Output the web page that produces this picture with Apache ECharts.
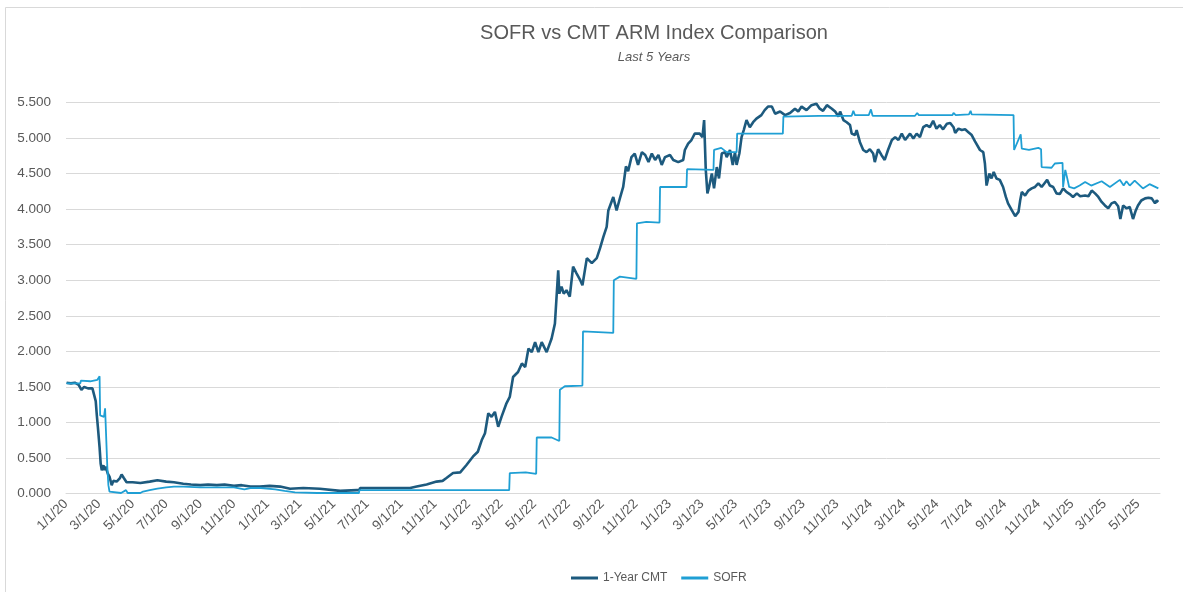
<!DOCTYPE html>
<html>
<head>
<meta charset="utf-8">
<title>SOFR vs CMT ARM Index Comparison</title>
<script src="https://cdn.jsdelivr.net/npm/echarts@6/dist/echarts.min.js"></script>
<style>
  html, body { margin: 0; padding: 0; background: #fff; }
  #chart { width: 1183px; height: 592px; }
</style>
</head>
<body>
<div id="chart"></div>
<script>
// tick labels on the x axis (every two months)
var xTickDates = [
  '2020-01-01','2020-03-01','2020-05-01','2020-07-01','2020-09-01','2020-11-01',
  '2021-01-01','2021-03-01','2021-05-01','2021-07-01','2021-09-01','2021-11-01',
  '2022-01-01','2022-03-01','2022-05-01','2022-07-01','2022-09-01','2022-11-01',
  '2023-01-01','2023-03-01','2023-05-01','2023-07-01','2023-09-01','2023-11-01',
  '2024-01-01','2024-03-01','2024-05-01','2024-07-01','2024-09-01','2024-11-01',
  '2025-01-01','2025-03-01','2025-05-01'
];
var yTicks = [0, 0.5, 1, 1.5, 2, 2.5, 3, 3.5, 4, 4.5, 5, 5.5];

// 1-Year CMT
var cmtDates = [
  '2020-01-02','2020-01-10','2020-01-17','2020-01-24','2020-01-29','2020-02-03','2020-02-10','2020-02-18','2020-02-21','2020-02-24',
  '2020-02-26','2020-02-28','2020-03-02','2020-03-04','2020-03-06','2020-03-09','2020-03-11','2020-03-13','2020-03-17','2020-03-20',
  '2020-03-24','2020-03-27','2020-04-02','2020-04-08','2020-04-11','2020-04-15','2020-04-20','2020-05-01','2020-05-15','2020-06-01',
  '2020-06-15','2020-07-01','2020-07-15','2020-08-01','2020-08-15','2020-09-01','2020-09-15','2020-10-01','2020-10-15','2020-11-01',
  '2020-11-15','2020-12-01','2020-12-18',
  '2021-01-05','2021-01-24','2021-02-11','2021-03-07','2021-04-06','2021-05-13','2021-06-12','2021-06-17','2021-06-18','2021-08-05',
  '2021-09-17','2021-09-29','2021-10-17','2021-11-04','2021-11-15','2021-11-22','2021-12-04','2021-12-17','2021-12-28',
  '2022-01-09','2022-01-18','2022-01-25','2022-01-31','2022-02-06','2022-02-12','2022-02-18','2022-02-24','2022-03-02','2022-03-11',
  '2022-03-17','2022-03-23','2022-04-01','2022-04-08','2022-04-14','2022-04-20','2022-04-26','2022-05-02','2022-05-08','2022-05-14',
  '2022-05-23','2022-06-01','2022-06-07','2022-06-13','2022-06-15','2022-06-19','2022-06-23','2022-06-28','2022-07-04','2022-07-10',
  '2022-07-16','2022-07-23','2022-07-27','2022-08-04','2022-08-13','2022-08-22','2022-08-28','2022-09-03','2022-09-09','2022-09-12',
  '2022-09-21','2022-09-27','2022-10-03','2022-10-09','2022-10-14','2022-10-18','2022-10-24','2022-10-30','2022-11-05','2022-11-12',
  '2022-11-18','2022-11-24','2022-11-30','2022-12-06','2022-12-12','2022-12-18','2022-12-24',
  '2023-01-02','2023-01-08','2023-01-17','2023-01-26','2023-01-29','2023-02-04','2023-02-10','2023-02-16','2023-02-25','2023-03-02',
  '2023-03-05','2023-03-08','2023-03-11','2023-03-14','2023-03-19','2023-03-23','2023-03-28','2023-04-01','2023-04-06','2023-04-12',
  '2023-04-15','2023-04-21','2023-04-26','2023-04-30','2023-05-03','2023-05-08','2023-05-12','2023-05-16','2023-05-21','2023-05-27',
  '2023-06-02','2023-06-08','2023-06-17','2023-06-23','2023-06-29','2023-07-06','2023-07-12','2023-07-21','2023-07-30','2023-08-08',
  '2023-08-17','2023-08-23','2023-08-29','2023-09-07','2023-09-16','2023-09-25','2023-10-01','2023-10-07','2023-10-14','2023-10-23',
  '2023-10-29','2023-11-04','2023-11-07','2023-11-13','2023-11-19','2023-11-25','2023-11-28','2023-12-04','2023-12-07','2023-12-13',
  '2023-12-19','2023-12-25','2023-12-31',
  '2024-01-06','2024-01-09','2024-01-15','2024-01-21','2024-01-27','2024-02-02','2024-02-09','2024-02-15','2024-02-21','2024-02-27',
  '2024-03-04','2024-03-13','2024-03-19','2024-03-25','2024-03-31','2024-04-06','2024-04-12','2024-04-18','2024-04-24','2024-04-30',
  '2024-05-06','2024-05-12','2024-05-19','2024-05-25','2024-05-31','2024-06-03','2024-06-09','2024-06-15','2024-06-21','2024-06-27',
  '2024-07-03','2024-07-09','2024-07-18','2024-07-24','2024-07-27','2024-07-30','2024-08-04','2024-08-08','2024-08-12','2024-08-17',
  '2024-08-23','2024-08-29','2024-09-03','2024-09-07','2024-09-14','2024-09-20','2024-09-26','2024-09-29','2024-10-02','2024-10-08',
  '2024-10-14','2024-10-20','2024-10-26','2024-11-01','2024-11-07','2024-11-13','2024-11-17','2024-11-22','2024-11-28','2024-12-04',
  '2024-12-10','2024-12-16','2024-12-22','2024-12-28',
  '2025-01-03','2025-01-10','2025-01-16','2025-01-25','2025-01-31','2025-02-06','2025-02-12','2025-02-18','2025-02-24','2025-03-02',
  '2025-03-08','2025-03-14','2025-03-20','2025-03-26','2025-03-30','2025-04-04','2025-04-10','2025-04-16','2025-04-22','2025-04-27',
  '2025-05-01','2025-05-07','2025-05-14','2025-05-20','2025-05-26','2025-06-01','2025-06-04','2025-06-07'
];
var cmtValues = [
  1.56,1.55,1.56,1.53,1.46,1.50,1.48,1.48,1.46,1.30,
  1.10,0.93,0.65,0.42,0.33,0.40,0.33,0.38,0.28,0.24,
  0.12,0.18,0.17,0.22,0.27,0.22,0.16,0.16,0.15,0.17,
  0.19,0.17,0.16,0.14,0.13,0.12,0.13,0.12,0.13,0.11,
  0.12,0.10,0.10,
  0.11,0.10,0.07,0.08,0.07,0.04,0.05,0.05,0.08,0.08,
  0.08,0.10,0.13,0.17,0.18,0.22,0.29,0.30,0.40,
  0.52,0.59,0.75,0.85,1.13,1.08,1.15,0.94,1.08,1.27,
  1.36,1.64,1.71,1.83,1.78,2.04,1.99,2.13,1.99,2.13,
  1.99,2.18,2.39,3.14,2.81,2.91,2.81,2.86,2.77,3.19,
  3.10,3.00,2.93,3.31,3.24,3.31,3.45,3.61,3.75,3.98,
  4.17,3.98,4.15,4.31,4.60,4.53,4.73,4.78,4.62,4.80,
  4.76,4.66,4.78,4.69,4.76,4.62,4.73,
  4.76,4.69,4.66,4.69,4.83,4.92,4.97,5.06,5.06,5.01,
  5.25,4.55,4.22,4.31,4.50,4.29,4.59,4.43,4.78,4.80,
  4.73,4.83,4.62,4.80,4.62,4.78,5.01,5.11,5.25,5.15,
  5.22,5.27,5.32,5.39,5.44,5.44,5.34,5.37,5.32,5.35,
  5.41,5.37,5.44,5.39,5.46,5.48,5.41,5.38,5.46,5.41,
  5.37,5.30,5.37,5.25,5.22,5.18,5.06,5.04,5.11,4.94,
  4.83,4.80,4.84,
  4.78,4.66,4.84,4.76,4.69,4.83,4.97,5.01,4.97,5.06,
  4.97,5.06,4.99,5.06,5.01,5.15,5.18,5.15,5.24,5.13,
  5.18,5.12,5.20,5.21,5.15,5.07,5.13,5.11,5.12,5.08,
  5.04,4.95,4.83,4.80,4.64,4.33,4.50,4.43,4.52,4.43,
  4.41,4.31,4.17,4.08,3.98,3.90,3.96,4.12,4.24,4.19,
  4.26,4.29,4.31,4.36,4.31,4.37,4.41,4.33,4.31,4.22,
  4.21,4.29,4.24,4.21,
  4.17,4.22,4.18,4.19,4.18,4.26,4.22,4.17,4.10,4.05,
  4.01,4.08,4.10,4.04,3.86,4.05,4.01,4.03,3.86,3.98,
  4.05,4.12,4.15,4.16,4.15,4.08,4.12,4.10
];

// SOFR (step points kept on both sides of each move)
var sofrDates = [
  '2020-01-02','2020-01-27','2020-01-28','2020-02-14','2020-02-27','2020-03-02','2020-03-03','2020-03-10','2020-03-12','2020-03-16',
  '2020-03-18','2020-03-20','2020-04-10','2020-04-19','2020-04-22','2020-05-15','2020-05-20','2020-06-01','2020-06-15','2020-07-01',
  '2020-07-15','2020-08-01','2020-09-01','2020-10-01','2020-11-01','2020-11-20','2020-12-01','2020-12-20',
  '2021-01-15','2021-02-01','2021-02-20','2021-04-01','2021-06-16','2021-06-17','2021-09-01','2021-12-01',
  '2022-03-16','2022-03-17','2022-04-15','2022-05-04','2022-05-05','2022-06-01','2022-06-15','2022-06-16','2022-06-25','2022-07-27',
  '2022-07-28','2022-09-21','2022-09-22','2022-10-03','2022-11-02','2022-11-03','2022-11-20','2022-12-14','2022-12-15',
  '2023-02-01','2023-02-02','2023-03-22','2023-03-23','2023-04-05','2023-04-15','2023-05-03','2023-05-04','2023-07-26','2023-07-27',
  '2023-09-30','2023-11-28','2023-12-01','2023-12-04','2023-12-29',
  '2024-01-02','2024-01-05','2024-03-22','2024-03-26','2024-03-29','2024-05-29','2024-05-31','2024-06-04','2024-06-28','2024-07-01',
  '2024-07-03','2024-09-17','2024-09-18','2024-09-30','2024-10-02','2024-10-15','2024-11-01','2024-11-06','2024-11-07','2024-11-25',
  '2024-12-01','2024-12-15','2024-12-16','2024-12-20','2024-12-23','2024-12-27',
  '2025-01-05','2025-01-15','2025-01-25','2025-02-05','2025-02-24','2025-03-11','2025-03-29','2025-04-05','2025-04-10','2025-04-16',
  '2025-04-25','2025-05-10','2025-05-22','2025-06-07'
];
var sofrValues = [
  1.55,1.55,1.59,1.58,1.60,1.65,1.10,1.08,1.20,0.38,
  0.12,0.03,0.01,0.05,0.01,0.01,0.03,0.05,0.07,0.09,
  0.10,0.10,0.09,0.09,0.09,0.06,0.08,0.08,
  0.06,0.04,0.02,0.01,0.01,0.05,0.05,0.05,
  0.05,0.29,0.30,0.28,0.79,0.79,0.74,1.46,1.51,1.52,
  2.28,2.26,3.00,3.05,3.02,3.80,3.82,3.81,4.31,
  4.31,4.56,4.55,4.83,4.86,4.80,4.80,5.06,5.06,5.30,
  5.31,5.31,5.38,5.32,5.32,
  5.40,5.31,5.31,5.35,5.32,5.32,5.35,5.32,5.33,5.38,
  5.33,5.32,4.83,5.05,4.85,4.83,4.86,4.84,4.59,4.58,
  4.64,4.65,4.31,4.55,4.45,4.31,
  4.29,4.33,4.38,4.33,4.39,4.31,4.41,4.33,4.39,4.33,
  4.40,4.29,4.35,4.29
];

function localTime(s) {
  var p = s.split('-');
  return new Date(+p[0], +p[1] - 1, +p[2]).getTime();
}
function zip(dates, values) {
  return dates.map(function (d, i) { return [localTime(d), values[i]]; });
}

var chart = echarts.init(document.getElementById('chart'));
var grey = '#595959';
var font = '"Liberation Sans", Arial, sans-serif';

var option = {
  animation: false,
  backgroundColor: '#ffffff',
  textStyle: { fontFamily: font },
  graphic: [
    { type: 'rect', shape: { x: 5.5, y: 7.5, width: 1300, height: 700 },
      style: { fill: 'none', stroke: '#d9d9d9', lineWidth: 1 }, silent: true },
    { type: 'text', x: 654, y: 33,
      style: { text: 'SOFR vs CMT ARM Index Comparison', fill: grey, font: '20px ' + font,
               textAlign: 'center', textVerticalAlign: 'middle' } },
    { type: 'text', x: 654, y: 57,
      style: { text: 'Last 5 Years', fill: grey, font: 'italic 13px ' + font,
               textAlign: 'center', textVerticalAlign: 'middle' } }
  ],
  legend: {
    left: 566, top: 567,
    icon: 'rect', itemWidth: 27, itemHeight: 3, itemGap: 14,
    textStyle: { color: grey, fontSize: 12, fontFamily: font },
    data: ['1-Year CMT', 'SOFR']
  },
  grid: { left: 66, right: 23, top: 102.3, bottom: 98.3, containLabel: false },
  xAxis: {
    type: 'value',
    min: localTime('2020-01-01'),
    max: localTime('2025-06-10'),
    axisLine: { show: true, lineStyle: { color: '#d9d9d9' } },
    axisTick: { show: false },
    splitLine: { show: false },
    axisLabel: {
      customValues: xTickDates.map(localTime),
      rotate: 45,
      margin: 8,
      color: grey,
      fontSize: 13.5,
      fontFamily: font,
      hideOverlap: false,
      formatter: function (v) {
        var d = new Date(v);
        return (d.getMonth() + 1) + '/' + d.getDate() + '/' + String(d.getFullYear()).slice(2);
      }
    }
  },
  yAxis: {
    type: 'value',
    min: yTicks[0],
    max: yTicks[yTicks.length - 1],
    interval: 0.5,
    axisLine: { show: false },
    axisTick: { show: false },
    splitLine: { lineStyle: { color: '#d9d9d9', width: 1 } },
    axisLabel: {
      margin: 15,
      color: grey,
      fontSize: 13.5,
      fontFamily: font,
      formatter: function (v) { return v.toFixed(3); }
    }
  },
  series: [
    {
      name: '1-Year CMT', type: 'line', showSymbol: false, symbol: 'none',
      color: '#1d5a7e',
      lineStyle: { color: '#1d5a7e', width: 2.6 },
      data: zip(cmtDates, cmtValues)
    },
    {
      name: 'SOFR', type: 'line', showSymbol: false, symbol: 'none',
      color: '#1f9fd4',
      lineStyle: { color: '#1f9fd4', width: 1.8 },
      data: zip(sofrDates, sofrValues)
    }
  ]
};

chart.setOption(option);
</script>
</body>
</html>
